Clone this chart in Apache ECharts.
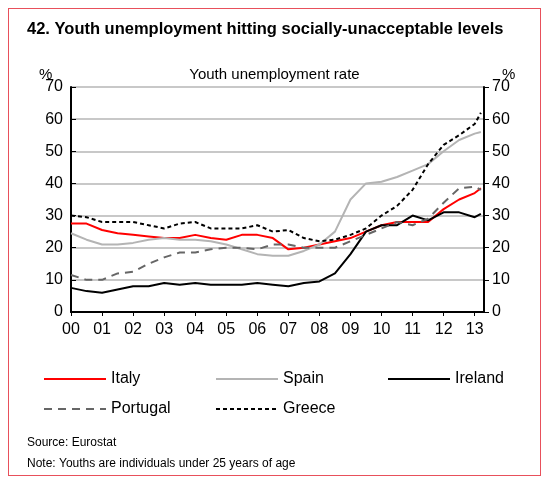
<!DOCTYPE html>
<html><head><meta charset="utf-8">
<script src="https://cdn.jsdelivr.net/npm/echarts@6/dist/echarts.min.js"></script>
<style>
body{margin:0;background:#fff;}
#frame{position:absolute;left:8px;top:8px;width:531px;height:466px;border:1px solid #e8505b;}
#main{position:absolute;left:0;top:0;width:549px;height:480px;}
</style></head>
<body><div id="frame"></div><div id="main"></div>
<script>
// half-yearly points, x = years since 2000
var years = [0,0.5,1,1.5,2,2.5,3,3.5,4,4.5,5,5.5,6,6.5,7,7.5,8,8.5,9,9.5,10,10.5,11,11.5,12,12.5,13,13.2];
var italy    = [27.5,27.5,25.5,24.5,24,23.5,23,23,24,23,22.5,24,24,23,19.5,20,21,22,23,25,27,28,28,28,32,35,37,38.5];
var spain    = [24.5,22.5,21,21,21.5,22.5,23,22.5,22.5,22,21,19.5,18,17.5,17.5,19,21,25,35,40,40.5,42,44,46,50,53.5,55.5,56];
var ireland  = [7.5,6.5,6,7,8,8,9,8.5,9,8.5,8.5,8.5,9,8.5,8,9,9.5,12,18,25,27,27,30,28.5,31,31,29.5,30.5];
var portugal = [11.5,10,10,12,12.5,15,17,18.5,18.5,19.5,20,20,19.5,21,21,20,20,20,22,24,26,28,27,29,34,38.5,39,38];
var greece   = [30,29.5,28,28,28,27,26,27.5,28,26,26,26,27,25,25.5,23,22,22.5,24,26,30,33,38,46,52,55,58.5,62];

function pairs(v){ return years.map(function(x,i){ return [x, v[i]]; }); }

var chart = echarts.init(document.getElementById('main'));
var font = 'Liberation Sans, Arial, sans-serif';
function yAxis(pos){
  return {type:'value', position:pos, min:0, max:70, interval:10,
    axisLine:{show:true, lineStyle:{color:'#000', width:2}},
    axisTick:{show:true, inside:pos==='left', length:5, lineStyle:{color:'#000'}},
    axisLabel:{color:'#000', fontSize:16, fontFamily:font, margin:8},
    splitLine:{show:pos==='left', lineStyle:{color:'#c8c8c8', width:2}}};
}
function series(name, v, color, width, type){
  return {name:name, type:'line', data:pairs(v), showSymbol:false, symbol:'none',
    lineStyle:{color:color, width:width, type:type}, itemStyle:{color:color}};
}
function legend(name, left, top){
  return {data:[name], left:left, top:top, itemWidth:62, itemHeight:12, itemGap:8,
    itemStyle:{opacity:0},
    textStyle:{fontSize:16, fontFamily:font, color:'#000'}};
}
function text(t, left, top, size, bold){
  return {text:t, left:left, top:top, textStyle:{fontSize:size, fontWeight:bold?'bold':'normal', fontFamily:font, color:'#000'}};
}
chart.setOption({
  animation:false,
  title:[
    text('42. Youth unemployment hitting socially-unacceptable levels', 22, 16, 16.5, true),
    text('Youth unemployment rate', 'center', 62, 15),
    text('%', 34, 62, 15),
    text('%', 497, 62, 15),
    text('Source: Eurostat', 22, 432, 12),
    text('Note: Youths are individuals under 25 years of age', 22, 453, 12)
  ],
  legend:[
    legend('Italy', 38, 366), legend('Spain', 210, 366), legend('Ireland', 382, 366),
    legend('Portugal', 38, 396), legend('Greece', 210, 396)
  ],
  grid:{left:71, right:65, top:87, bottom:168},
  xAxis:{type:'value', min:0, max:13.3, interval:1,
    axisLine:{lineStyle:{color:'#000', width:2}},
    axisTick:{show:true, length:4, lineStyle:{color:'#000'}},
    axisLabel:{color:'#000', fontSize:16, fontFamily:font, margin:10, showMaxLabel:false,
      formatter:function(v){ return (v<10?'0':'')+Math.round(v); }},
    splitLine:{show:false}},
  yAxis:[yAxis('left'), yAxis('right')],
  series:[
    series('Italy', italy, '#ff0000', 2, 'solid'),
    series('Spain', spain, '#b4b4b4', 2, 'solid'),
    series('Ireland', ireland, '#000000', 2, 'solid'),
    series('Portugal', portugal, '#666666', 2, [8,6]),
    series('Greece', greece, '#000000', 2, [4,3])
  ]
});
window.addEventListener('resize', chart.resize);
</script></body></html>
